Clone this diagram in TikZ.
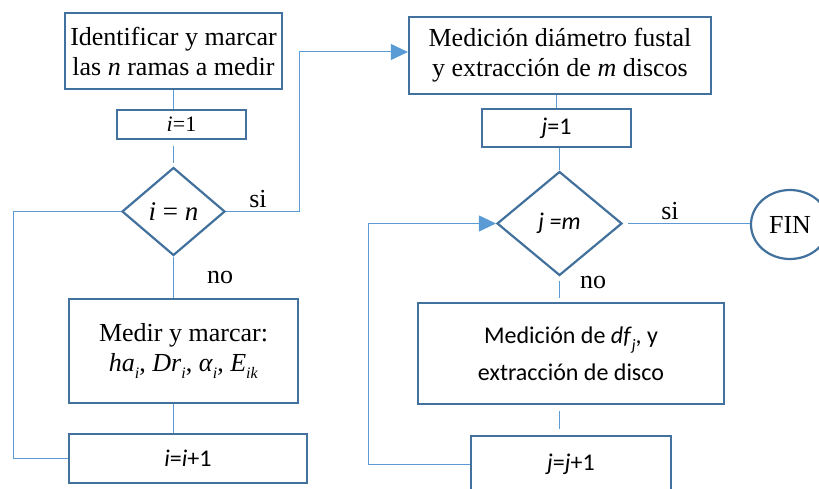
\documentclass[tikz,border=0pt]{standalone}
\usepackage{fontspec}
\setmainfont{Liberation Serif}
\newfontfamily\carlito{Carlito}
\usetikzlibrary{shapes.geometric,arrows.meta}
\definecolor{boxblue}{HTML}{41719C}
\definecolor{lineblue}{HTML}{5B9BD5}
\newcommand\subi[1]{\raisebox{-7pt}{\fontsize{16}{16}\selectfont\textit{#1}}}
\tikzset{
    caja/.style={draw=boxblue,line width=2.2pt,inner sep=0pt,align=center,
        font=\fontsize{26}{30}\selectfont},
    cajac/.style={caja,font=\carlito\fontsize{24}{37}\selectfont},
    rombo/.style={caja,diamond},
    conn/.style={draw=lineblue,line width=1pt},
    flecha/.style={conn,-{Triangle[length=17pt,width=16pt]},fill=none},
    etiq/.style={font=\fontsize{26}{30}\selectfont,inner sep=0pt}
}
\begin{document}
\begin{tikzpicture}[x=1pt,y=-1pt]
        \useasboundingbox (0,0) rectangle (819,489);
        \clip (0,0) rectangle (819,489);
        \node[caja,minimum width=217,minimum height=76] (ident) at (173.5,51)
            {Identificar y marcar\\las \textit{n} ramas a medir};
        \node[caja,minimum width=129,minimum height=29,font=\fontsize{22}{24}\selectfont] (ini) at (181.5,124.5)
            {\textit{i}=1};
        \node[rombo,minimum width=103,minimum height=88,font=\fontsize{27}{30}\selectfont] (condi) at (173.5,211.5)
            {\textit{i} = \textit{n}};
        \node[caja,minimum width=229,minimum height=104] (medir) at (183.5,351)
            {Medir y marcar:\\
            \textit{ha}\subi{i}, \textit{Dr}\subi{i},
            \textit{α}\subi{i}, \textit{E}\subi{ik}};
        \node[cajac,minimum width=238,minimum height=49] (inc) at (188,458.5)
            {\textit{i}=\textit{i}+1};
        \node[caja,minimum width=302,minimum height=77] (medic) at (560,55.5)
            {Medición diámetro fustal\\y extracción de \textit{m} discos};
        \node[cajac,minimum width=149,minimum height=38] (inj) at (556.5,128)
            {\textit{j}=1};
        \node[rombo,minimum width=125,minimum height=104,font=\carlito\fontsize{24}{30}\selectfont] (condj) at (559.5,223.5)
            {\textit{j =m}};
        \node[caja,ellipse,minimum width=78,minimum height=69] (fin) at (790,224.5) {FIN};
        \node[cajac,minimum width=306,minimum height=101] (medj) at (571,353.5)
            {Medición de \textit{df}{\carlito\subi{j}}, y\\extracción de disco};
        \node[cajac,minimum width=200,minimum height=56] (incj) at (571,464)
            {\textit{j}=\textit{j}+1};
        \node[etiq] (sii) at (258,199) {si};
        \node[etiq] (noi) at (220,278) {no};
        \node[etiq] (sij) at (670,211) {si};
        \node[etiq] (noj) at (593,283) {no};
        \coordinate (giro) at (299,52);
        \coordinate (loopi) at (13,458.5);
        \coordinate (loopj) at (368,464);
        \draw[conn] (ident.south) -- (ident.south |- ini.north);
        \draw[conn,shorten <=6pt,shorten >=3pt] (condi.north |- ini.south) -- (condi.north);
        \draw[flecha] (condi.east) -| (giro) -- (medic.west |- giro);
        \draw[conn] (inc.west) -- (loopi) |- (condi.west);
        \draw[conn] (condi.south) -- (condi.south |- medir.north);
        \draw[conn] (condi.south |- medir.south) -- (condi.south |- inc.north);
        \draw[conn] (inj.north |- medic.south) -- (inj.north);
        \draw[conn] (condj.north |- inj.south) -- (condj.north);
        \draw[conn,shorten <=5pt] (condj.east) -- (condj.east -| fin.west);
        \draw[conn,shorten <=4pt,shorten >=4pt] (condj.south) -- (condj.south |- medj.north);
        \draw[conn,shorten <=6pt,shorten >=6pt] (condj.south |- medj.south) -- (condj.south |- incj.north);
        \draw[flecha] (incj.west) -- (loopj) |- (condj.west);
\end{tikzpicture}
\end{document}
